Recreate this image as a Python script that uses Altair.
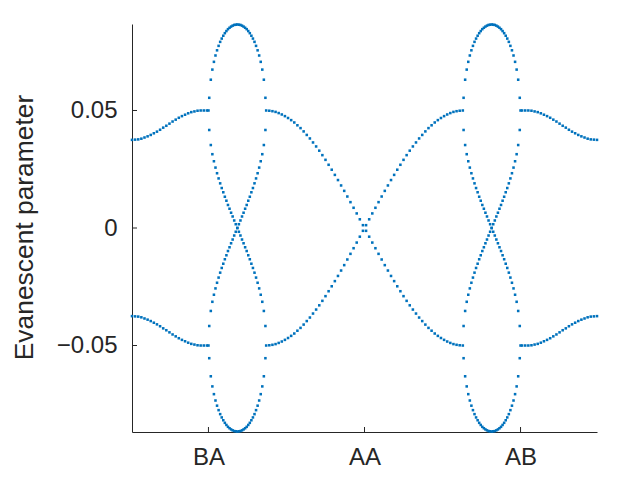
import altair as alt
import pandas as pd

BLUE = "#0072BD"
INK = "#262626"

# x positions along the path: BA = 0, AA = 100, AB = 200
tick_pos = [0, 100, 200]
tick_labels = ["BA", "AA", "AB"]
y_ticks = [-0.05, 0, 0.05]

# left band (BA side)
left_band_x = [-49, -47, -45, -43, -41, -39, -37, -35, -33, -31, -29, -27, -25,
               -23, -21, -19, -17, -15, -13, -11, -9, -7, -5, -3, -1, 0]
left_band_upper = [0.0375, 0.0376, 0.0377, 0.0380, 0.0385, 0.0390, 0.0396, 0.0403,
                   0.0410, 0.0418, 0.0427, 0.0435, 0.0444, 0.0453, 0.0461, 0.0469,
                   0.0476, 0.0482, 0.0488, 0.0493, 0.0496, 0.0499, 0.0500, 0.0500,
                   0.0500, 0.0500]
left_band_lower = [-0.0375, -0.0376, -0.0377, -0.0380, -0.0385, -0.0390, -0.0396, -0.0403,
                   -0.0410, -0.0418, -0.0427, -0.0435, -0.0444, -0.0453, -0.0461, -0.0469,
                   -0.0476, -0.0482, -0.0488, -0.0493, -0.0496, -0.0499, -0.0500, -0.0500,
                   -0.0500, -0.0500]

# right band (AB side)
right_band_x = [200, 201, 203, 205, 207, 209, 211, 213, 215, 217, 219, 221, 223,
                225, 227, 229, 231, 233, 235, 237, 239, 241, 243, 245, 247, 249]
right_band_upper = [0.0500, 0.0500, 0.0500, 0.0500, 0.0499, 0.0496, 0.0493, 0.0488,
                    0.0482, 0.0476, 0.0469, 0.0461, 0.0453, 0.0444, 0.0435, 0.0427,
                    0.0418, 0.0410, 0.0403, 0.0396, 0.0390, 0.0385, 0.0380, 0.0377,
                    0.0376, 0.0375]
right_band_lower = [-0.0500, -0.0500, -0.0500, -0.0500, -0.0499, -0.0496, -0.0493, -0.0488,
                    -0.0482, -0.0476, -0.0469, -0.0461, -0.0453, -0.0444, -0.0435, -0.0427,
                    -0.0418, -0.0410, -0.0403, -0.0396, -0.0390, -0.0385, -0.0380, -0.0377,
                    -0.0376, -0.0375]

# middle bands crossing at AA
mid_x = list(range(37, 164, 2))
mid_down = [0.0500, 0.0499, 0.0497, 0.0494, 0.0489, 0.0483, 0.0476, 0.0468, 0.0459, 0.0449,
            0.0437, 0.0425, 0.0411, 0.0396, 0.0381, 0.0364, 0.0347, 0.0329, 0.0310, 0.0290,
            0.0269, 0.0248, 0.0226, 0.0204, 0.0181, 0.0158, 0.0134, 0.0110, 0.0086, 0.0062,
            0.0037, 0.0012,
            -0.0012, -0.0037, -0.0062, -0.0086, -0.0110, -0.0134, -0.0158, -0.0181, -0.0204,
            -0.0226, -0.0248, -0.0269, -0.0290, -0.0310, -0.0329, -0.0347, -0.0364, -0.0381,
            -0.0396, -0.0411, -0.0425, -0.0437, -0.0449, -0.0459, -0.0468, -0.0476, -0.0483,
            -0.0489, -0.0494, -0.0497, -0.0499, -0.0500]
mid_up = [-0.0500, -0.0499, -0.0497, -0.0494, -0.0489, -0.0483, -0.0476, -0.0468, -0.0459,
          -0.0449, -0.0437, -0.0425, -0.0411, -0.0396, -0.0381, -0.0364, -0.0347, -0.0329,
          -0.0310, -0.0290, -0.0269, -0.0248, -0.0226, -0.0204, -0.0181, -0.0158, -0.0134,
          -0.0110, -0.0086, -0.0062, -0.0037, -0.0012,
          0.0012, 0.0037, 0.0062, 0.0086, 0.0110, 0.0134, 0.0158, 0.0181, 0.0204, 0.0226,
          0.0248, 0.0269, 0.0290, 0.0310, 0.0329, 0.0347, 0.0364, 0.0381, 0.0396, 0.0411,
          0.0425, 0.0437, 0.0449, 0.0459, 0.0468, 0.0476, 0.0483, 0.0489, 0.0494, 0.0497,
          0.0499, 0.0500]

# lens loops near BA and AB
lens_left_x = [0.5 + i for i in range(37)]
lens_right_x = [163.5 + i for i in range(37)]
lens_top = [0.0554, 0.0631, 0.0674, 0.0707, 0.0734, 0.0756, 0.0775, 0.0792, 0.0806, 0.0818,
            0.0829, 0.0838, 0.0846, 0.0852, 0.0857, 0.0861, 0.0864, 0.0865, 0.0866, 0.0865,
            0.0864, 0.0861, 0.0857, 0.0852, 0.0846, 0.0838, 0.0829, 0.0818, 0.0806, 0.0792,
            0.0775, 0.0756, 0.0734, 0.0707, 0.0674, 0.0631, 0.0554]
lens_bottom = [-0.0554, -0.0631, -0.0674, -0.0707, -0.0734, -0.0756, -0.0775, -0.0792, -0.0806,
               -0.0818, -0.0829, -0.0838, -0.0846, -0.0852, -0.0857, -0.0861, -0.0864, -0.0865,
               -0.0866, -0.0865, -0.0864, -0.0861, -0.0857, -0.0852, -0.0846, -0.0838, -0.0829,
               -0.0818, -0.0806, -0.0792, -0.0775, -0.0756, -0.0734, -0.0707, -0.0674, -0.0631,
               -0.0554]
lens_cross_a = [0.0417, 0.0353, 0.0314, 0.0284, 0.0257, 0.0233, 0.0211, 0.0190, 0.0170, 0.0152,
                0.0133, 0.0116, 0.0098, 0.0082, 0.0065, 0.0049, 0.0032, 0.0016, 0.0000,
                -0.0016, -0.0032, -0.0049, -0.0065, -0.0082, -0.0098, -0.0116, -0.0133,
                -0.0152, -0.0170, -0.0190, -0.0211, -0.0233, -0.0257, -0.0284, -0.0314,
                -0.0353, -0.0417]
lens_cross_b = [-0.0417, -0.0353, -0.0314, -0.0284, -0.0257, -0.0233, -0.0211, -0.0190, -0.0170,
                -0.0152, -0.0133, -0.0116, -0.0098, -0.0082, -0.0065, -0.0049, -0.0032, -0.0016,
                0.0000, 0.0016, 0.0032, 0.0049, 0.0065, 0.0082, 0.0098, 0.0116, 0.0133, 0.0152,
                0.0170, 0.0190, 0.0211, 0.0233, 0.0257, 0.0284, 0.0314, 0.0353, 0.0417]

branches = [
    (left_band_x, left_band_upper), (left_band_x, left_band_lower),
    (right_band_x, right_band_upper), (right_band_x, right_band_lower),
    (mid_x, mid_down), (mid_x, mid_up),
    (lens_left_x, lens_top), (lens_left_x, lens_bottom),
    (lens_left_x, lens_cross_a), (lens_left_x, lens_cross_b),
    (lens_right_x, lens_top), (lens_right_x, lens_bottom),
    (lens_right_x, lens_cross_a), (lens_right_x, lens_cross_b),
]
rows = []
for xs, ys in branches:
    for xv, yv in zip(xs, ys):
        rows.append({"x": xv, "y": yv})
df = pd.DataFrame(rows)

label_expr = " : ".join(
    f"datum.value == {p} ? '{l}'" for p, l in zip(tick_pos[:-1], tick_labels[:-1])
) + f" : '{tick_labels[-1]}'"

W, H = 465, 408

points = alt.Chart(df).mark_square(size=6.5, color=BLUE, opacity=1, clip=False).encode(
    x=alt.X("x:Q",
            scale=alt.Scale(domain=[-49, 249], nice=False, zero=False),
            axis=alt.Axis(values=tick_pos, labelExpr=label_expr, title=None, grid=False,
                          ticks=False, labelPadding=13, labelFontSize=24)),
    y=alt.Y("y:Q",
            scale=alt.Scale(domain=[-0.0868, 0.0868], nice=False, zero=False),
            axis=alt.Axis(values=y_ticks, format=".2~f", grid=False, ticks=False,
                          labelPadding=15, labelFontSize=24,
                          title="Evanescent parameter", titleFontSize=26.4,
                          titleFontWeight="normal", titleX=-100, titleY=203,
                          titleAngle=270, titleAlign="center",
                          titleBaseline="alphabetic")),
)

ytick_rules = alt.Chart(pd.DataFrame({"y": y_ticks})).mark_rule(
    color=INK, strokeWidth=1).encode(y="y:Q", x=alt.value(0), x2=alt.value(5))
xtick_rules = alt.Chart(pd.DataFrame({"x": tick_pos})).mark_rule(
    color=INK, strokeWidth=1).encode(x="x:Q", y=alt.value(H), y2=alt.value(H - 5))

chart = alt.layer(points, ytick_rules, xtick_rules).properties(
    width=W, height=H, autosize="none",
    padding={"left": 124, "top": 16, "right": 35, "bottom": 48},
).configure_view(stroke=None).configure_axis(
    domainColor=INK, domainWidth=1, labelColor=INK, titleColor=INK,
    labelFont="Liberation Sans", titleFont="Liberation Sans",
)

chart.save("out.html", embed_options={"renderer": "svg", "actions": False})
